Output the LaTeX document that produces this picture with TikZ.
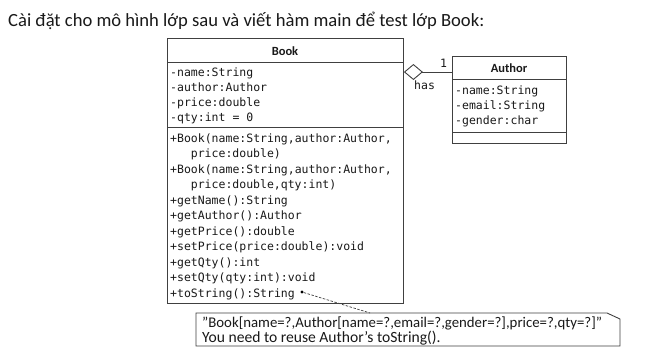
\documentclass[tikz,border=0pt]{standalone}
\usepackage{fontspec}
\setmainfont{Carlito}
\newfontfamily\codefont{DejaVu Sans Mono}
\usetikzlibrary{arrows.meta}
\tikzset{
  umlline/.style={draw=black!75, line width=0.9pt},
  compart/.style={umlline, rectangle, inner sep=0pt, anchor=north west},
  code/.style={font=\codefont\fontsize{11.5}{15}\selectfont, inner sep=0pt, anchor=base west, text=black!90},
  classname/.style={font=\fontsize{12.5}{15}\selectfont\bfseries, inner sep=0pt, anchor=base, text=black!90},
  notetext/.style={inner sep=0pt, anchor=base west, text=black!90},
  aggregation/.style={umlline, {Diamond[open, length=19pt, width=16pt, line width=0.9pt]}-},
}
\begin{document}
\begin{tikzpicture}[x=1pt, y=-1pt]
\useasboundingbox (0,0) rectangle (653,362);
\fill[white] (0,0) rectangle (653,362);

% heading
\node[font=\fontsize{18.6}{22}\selectfont, inner sep=0pt, anchor=base west, text=black!90] (title) at (8,26)
  {Cài đặt cho mô hình lớp sau và viết hàm main để test lớp Book:};

% class Book
\node[compart, minimum width=236pt, minimum height=24pt] (bookhead) at (167,38) {};
\node[compart, minimum width=236pt, minimum height=65pt] (bookattr) at (167,62) {};
\node[compart, minimum width=236pt, minimum height=176pt] (bookops) at (167,127) {};
\node[classname] (booktitle) at (285,55) {Book};
\foreach \t [count=\i] in {{-name:String},{-author:Author},{-price:double},{-qty:int = 0}}
  \node[code] (battr\i) at (170,{76+15*(\i-1)}) {\t};
\foreach \t [count=\i] in {
  {+Book(name:String,author:Author,},
  {\hspace*{20.7pt}price:double)},
  {+Book(name:String,author:Author,},
  {\hspace*{20.7pt}price:double,qty:int)},
  {+getName():String},
  {+getAuthor():Author},
  {+getPrice():double},
  {+setPrice(price:double):void},
  {+getQty():int},
  {+setQty(qty:int):void},
  {+toString():String}}
  \node[code] (bop\i) at (170,{142+15.5*(\i-1)}) {\t};

% class Author
\node[compart, minimum width=114pt, minimum height=23pt] (authhead) at (452,56) {};
\node[compart, minimum width=114pt, minimum height=53pt] (authattr) at (452,79) {};
\node[compart, minimum width=114pt, minimum height=11pt] (authops) at (452,132) {};
\node[classname] (authtitle) at (509,72) {Author};
\foreach \t [count=\i] in {{-name:String},{-email:String},{-gender:char}}
  \node[code] (aattr\i) at (455,{94+15.2*(\i-1)}) {\t};

% aggregation Book <>-- Author
\coordinate (hasend) at (bookattr.north east |- 0,72);
\draw[aggregation] (hasend) -- (authhead.west |- hasend);
\node[code] (mult) at (440,67) {1};
\node[code] (haslabel) at (414,89) {has};

% note attached to toString()
\node[circle, fill=black, inner sep=0pt, minimum size=3.2pt] (dot) at (302,292) {};
\coordinate (notetip) at (370,313);
\draw[umlline, line width=0.7pt, dash pattern=on 2.5pt off 1.5pt] (dot) -- (notetip);
\draw[umlline] (196,313) -- (607,313) -- (620,319) -- (620,346) -- (196,346) -- cycle;
\node[notetext, font=\fontsize{14.8}{15}\selectfont] (note1) at (202,327.5)
  {"Book[name=?,Author[name=?,email=?,gender=?],price=?,qty=?]"};
\node[notetext, font=\fontsize{15.6}{15}\selectfont] (note2) at (202,342.5)
  {You need to reuse Author’s toString().};
\end{tikzpicture}
\end{document}
